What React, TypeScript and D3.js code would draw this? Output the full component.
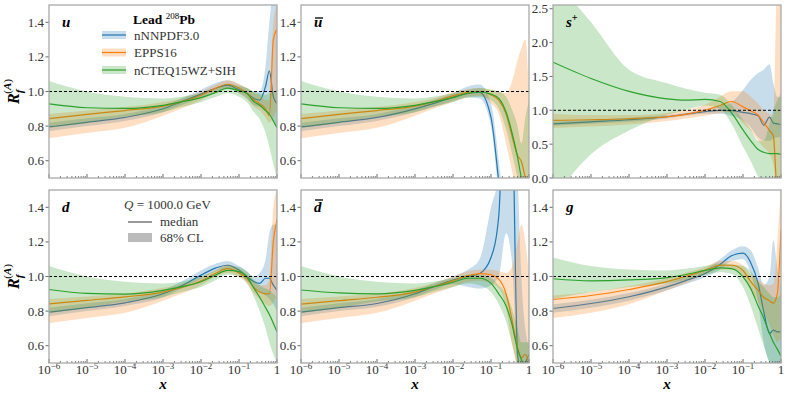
import React from 'react';
import * as d3 from 'd3';

// x grid shared by all curves
const xGrid = [1e-6, 1e-5, 1e-4, 1e-3, 3e-3, 1e-2, 0.025, 0.05, 0.1, 0.16, 0.25, 0.35, 0.5, 0.63, 0.8, 1];

// ---- u ----
const uNNmid = [0.795, 0.822, 0.85, 0.9, 0.94, 0.985, 1.02, 1.037, 1.01, 0.99, 0.96, 0.95, 1.03, 1.12, 0.97, 0.93];
const uNNlo = [0.77, 0.8, 0.83, 0.88, 0.92, 0.965, 1.0, 1.015, 0.99, 0.96, 0.92, 0.91, 0.9, 0.88, 0.84, 0.8];
const uNNhi = [0.82, 0.845, 0.87, 0.92, 0.96, 1.01, 1.05, 1.065, 1.04, 1.02, 1.0, 1.0, 1.15, 1.4, 1.6, 1.7];
const uEPmid = [0.843, 0.868, 0.89, 0.915, 0.94, 0.978, 1.02, 1.042, 1.02, 0.99, 0.95, 0.93, 0.9, 0.86, 1.3, 1.36];
const uEPlo = [0.73, 0.76, 0.79, 0.86, 0.9, 0.95, 0.995, 1.02, 0.99, 0.96, 0.91, 0.89, 0.85, 0.82, 0.85, 0.9];
const uEPhi = [0.87, 0.89, 0.91, 0.94, 0.96, 1.0, 1.04, 1.065, 1.045, 1.02, 0.99, 0.98, 0.95, 0.95, 1.4, 1.5];
const uCTmid = [0.928, 0.906, 0.902, 0.92, 0.94, 0.965, 0.995, 1.02, 1.005, 0.99, 0.94, 0.92, 0.89, 0.87, 0.83, 0.79];
const uCTlo = [0.79, 0.82, 0.855, 0.88, 0.91, 0.94, 0.97, 0.99, 0.97, 0.94, 0.88, 0.84, 0.76, 0.68, 0.58, 0.5];
const uCThi = [1.06, 1.0, 0.97, 0.96, 0.97, 0.99, 1.02, 1.045, 1.03, 1.02, 1.0, 0.99, 0.98, 0.99, 1.0, 1.0];

// ---- ubar ----
const ubNNmid = [0.795, 0.822, 0.85, 0.9, 0.93, 0.967, 0.99, 0.995, 0.85, 0.48, 0.1, -0.2, -0.3, -0.3, -0.3, -0.3];
const ubNNlo = [0.77, 0.8, 0.83, 0.88, 0.91, 0.945, 0.965, 0.96, 0.8, 0.4, 0.0, -0.3, -0.3, -0.3, -0.3, -0.3];
const ubNNhi = [0.82, 0.845, 0.87, 0.92, 0.95, 0.99, 1.03, 1.04, 0.93, 0.6, 0.2, -0.2, -0.2, -0.2, -0.2, -0.2];
const ubEPmid = [0.843, 0.868, 0.89, 0.915, 0.94, 0.975, 0.995, 1.0, 0.98, 0.95, 0.87, 0.75, 0.63, 0.595, 0.5, 0.4];
const ubEPlo = [0.73, 0.76, 0.79, 0.86, 0.9, 0.94, 0.97, 0.975, 0.93, 0.87, 0.7, 0.55, 0.4, 0.3, 0.3, 0.3];
const ubEPhi = [0.87, 0.89, 0.91, 0.94, 0.96, 0.995, 1.015, 1.02, 1.01, 1.0, 0.99, 1.05, 1.18, 1.25, 1.3, 1.0];
const ubCTmid = [0.928, 0.906, 0.902, 0.92, 0.94, 0.965, 0.99, 0.997, 0.985, 0.96, 0.88, 0.77, 0.62, 0.5, 0.4, 0.3];
const ubCTlo = [0.79, 0.82, 0.855, 0.88, 0.91, 0.94, 0.965, 0.97, 0.95, 0.9, 0.78, 0.65, 0.5, 0.4, 0.3, 0.2];
const ubCThi = [1.06, 1.0, 0.97, 0.96, 0.97, 0.99, 1.01, 1.02, 1.01, 1.0, 0.97, 0.9, 0.8, 0.7, 0.85, 0.95];

// ---- s+ ----
const sNNmid = [0.8, 0.83, 0.86, 0.905, 0.94, 0.98, 1.0, 0.995, 0.97, 0.95, 0.92, 0.78, 0.9, 0.81, 0.8, 0.79];
const sNNlo = [0.77, 0.8, 0.83, 0.88, 0.92, 0.95, 0.95, 0.92, 0.85, 0.75, 0.6, 0.55, 0.55, 0.58, 0.6, 0.6];
const sNNhi = [0.83, 0.86, 0.89, 0.93, 0.96, 1.02, 1.06, 1.12, 1.3, 1.45, 1.55, 1.6, 1.68, 1.4, 1.2, 1.2];
const sEPmid = [0.85, 0.86, 0.875, 0.905, 0.94, 1.0, 1.07, 1.13, 1.05, 0.99, 0.93, 0.82, 0.7, 0.62, -0.2, -0.2];
const sEPlo = [0.74, 0.76, 0.79, 0.84, 0.88, 0.92, 0.96, 0.97, 0.8, 0.7, 0.55, 0.45, 0.35, 0.2, -0.2, -0.2];
const sEPhi = [0.95, 0.93, 0.93, 0.96, 1.0, 1.08, 1.2, 1.28, 1.28, 1.2, 1.1, 1.0, 0.95, 0.9, 3.0, 3.0];
const sCTmid = [1.71, 1.47, 1.28, 1.17, 1.15, 1.16, 1.13, 0.96, 0.71, 0.55, 0.42, 0.38, 0.36, 0.36, 0.36, 0.35];
const sCTlo = [-0.3, 0.35, 0.7, 0.93, 1.0, 1.07, 1.02, 0.8, 0.46, 0.25, 0.02, -0.1, -0.1, -0.1, -0.1, 0.0];
const sCThi = [2.95, 2.3, 1.6, 1.4, 1.32, 1.26, 1.23, 1.08, 0.86, 0.72, 0.55, 0.55, 0.8, 1.0, 1.15, 1.25];

// ---- d ----
const dNNmid = [0.794, 0.82, 0.848, 0.9, 0.945, 1.008, 1.05, 1.065, 1.037, 1.0, 0.97, 0.96, 0.99, 0.99, 0.95, 0.92];
const dNNlo = [0.77, 0.8, 0.83, 0.88, 0.93, 0.985, 1.03, 1.045, 1.015, 0.975, 0.94, 0.91, 0.89, 0.87, 0.84, 0.8];
const dNNhi = [0.82, 0.845, 0.87, 0.92, 0.97, 1.035, 1.075, 1.09, 1.06, 1.03, 1.0, 1.02, 1.1, 1.25, 1.3, 1.3];
const dEPmid = [0.842, 0.862, 0.882, 0.91, 0.935, 0.975, 1.02, 1.045, 1.02, 0.99, 0.935, 0.91, 0.9, 0.9, 1.2, 1.33];
const dEPlo = [0.73, 0.76, 0.79, 0.86, 0.9, 0.95, 1.0, 1.02, 0.995, 0.96, 0.9, 0.87, 0.84, 0.83, 0.85, 0.9];
const dEPhi = [0.87, 0.885, 0.9, 0.935, 0.955, 0.995, 1.04, 1.07, 1.045, 1.015, 0.97, 0.95, 0.95, 0.98, 1.4, 1.5];
const dCTmid = [0.925, 0.902, 0.898, 0.92, 0.94, 0.97, 1.01, 1.035, 1.028, 1.0, 0.93, 0.88, 0.82, 0.78, 0.73, 0.68];
const dCTlo = [0.79, 0.82, 0.855, 0.88, 0.91, 0.94, 0.98, 1.01, 1.0, 0.965, 0.88, 0.8, 0.7, 0.62, 0.55, 0.5];
const dCThi = [1.06, 1.0, 0.97, 0.96, 0.97, 1.0, 1.035, 1.06, 1.055, 1.03, 0.98, 0.95, 0.93, 0.92, 0.9, 0.88];

// ---- dbar ----
const dbNNmid = [0.794, 0.82, 0.844, 0.9, 0.94, 0.98, 1.0, 1.017, 1.11, 1.35, 2.3, 2.1, 0.55, 0.45, 0.5, 0.55];
const dbNNlo = [0.77, 0.8, 0.825, 0.88, 0.92, 0.955, 0.94, 0.93, 0.95, 1.0, 1.25, 1.1, 0.45, 0.3, 0.3, 0.3];
const dbNNhi = [0.82, 0.845, 0.87, 0.92, 0.96, 1.0, 1.04, 1.1, 1.4, 1.6, 2.6, 2.6, 1.6, 1.0, 0.7, 0.6];
const dbEPmid = [0.84, 0.86, 0.88, 0.91, 0.94, 0.975, 1.005, 1.017, 1.01, 0.985, 0.9, 0.76, 0.59, 0.53, 0.55, 0.5];
const dbEPlo = [0.73, 0.76, 0.79, 0.86, 0.9, 0.94, 0.97, 0.975, 0.96, 0.93, 0.82, 0.62, 0.45, 0.3, 0.3, 0.3];
const dbEPhi = [0.87, 0.885, 0.9, 0.935, 0.96, 1.0, 1.03, 1.04, 1.04, 1.03, 1.02, 1.05, 1.2, 1.3, 1.2, 1.0];
const dbCTmid = [0.922, 0.905, 0.9, 0.92, 0.94, 0.967, 0.99, 0.99, 0.96, 0.9, 0.83, 0.73, 0.58, 0.52, 0.45, 0.4];
const dbCTlo = [0.79, 0.82, 0.855, 0.88, 0.91, 0.94, 0.96, 0.95, 0.91, 0.84, 0.74, 0.62, 0.48, 0.4, 0.3, 0.3];
const dbCThi = [1.06, 1.0, 0.97, 0.96, 0.97, 0.99, 1.01, 1.01, 0.99, 0.95, 0.9, 0.82, 0.7, 0.62, 0.62, 0.62];

// ---- g ----
const gNNmid = [0.815, 0.844, 0.883, 0.94, 0.975, 1.017, 1.07, 1.12, 1.135, 1.08, 0.96, 0.8, 0.67, 0.69, 0.68, 0.68];
const gNNlo = [0.79, 0.82, 0.86, 0.92, 0.955, 0.995, 1.04, 1.09, 1.1, 1.02, 0.85, 0.62, 0.5, 0.45, 0.45, 0.45];
const gNNhi = [0.84, 0.865, 0.905, 0.96, 0.995, 1.04, 1.1, 1.15, 1.175, 1.15, 1.05, 0.95, 1.0, 1.21, 1.05, 0.95];
const gEPmid = [0.867, 0.89, 0.925, 0.97, 1.0, 1.035, 1.065, 1.065, 1.035, 0.97, 0.92, 0.88, 0.86, 0.846, 0.9, 1.27];
const gEPlo = [0.76, 0.79, 0.84, 0.92, 0.96, 1.01, 1.04, 1.04, 1.0, 0.92, 0.85, 0.79, 0.72, 0.66, 0.62, 0.65];
const gEPhi = [0.89, 0.91, 0.945, 0.99, 1.02, 1.055, 1.09, 1.09, 1.065, 1.01, 0.98, 0.96, 0.95, 0.96, 1.2, 1.55];
const gCTmid = [0.987, 0.975, 0.98, 0.994, 1.01, 1.035, 1.05, 1.045, 0.998, 0.93, 0.83, 0.76, 0.67, 0.62, 0.58, 0.54];
const gCTlo = [0.87, 0.91, 0.94, 0.96, 0.98, 1.01, 1.025, 1.015, 0.94, 0.83, 0.7, 0.6, 0.5, 0.45, 0.45, 0.45];
const gCThi = [1.11, 1.06, 1.04, 1.035, 1.045, 1.06, 1.075, 1.07, 1.06, 1.03, 0.97, 0.94, 0.9, 0.88, 0.88, 0.9];

const setNames = ['nNNPDF3.0', 'EPPS16', 'nCTEQ15WZ+SIH'];
const setColors = ['#1f77b4', '#ff7f0e', '#2ca02c'];
const xTickLabels = ['−6', '−5', '−4', '−3', '−2', '−1', ''];
const yTicksStd = [0.6, 0.8, 1.0, 1.2, 1.4];
const yTicksS = [0.0, 0.5, 1.0, 1.5, 2.0, 2.5];

const panels = [
  { id: 'u', name: 'u', bar: false, sup: '', dom: [0.5, 1.5], ticks: yTicksStd,
    sets: [[uNNmid, uNNlo, uNNhi], [uEPmid, uEPlo, uEPhi], [uCTmid, uCTlo, uCThi]] },
  { id: 'ub', name: 'u', bar: true, sup: '', dom: [0.5, 1.5], ticks: yTicksStd,
    sets: [[ubNNmid, ubNNlo, ubNNhi], [ubEPmid, ubEPlo, ubEPhi], [ubCTmid, ubCTlo, ubCThi]] },
  { id: 's', name: 's', bar: false, sup: '+', dom: [0, 2.555], ticks: yTicksS,
    sets: [[sNNmid, sNNlo, sNNhi], [sEPmid, sEPlo, sEPhi], [sCTmid, sCTlo, sCThi]] },
  { id: 'd', name: 'd', bar: false, sup: '', dom: [0.5, 1.5], ticks: yTicksStd,
    sets: [[dNNmid, dNNlo, dNNhi], [dEPmid, dEPlo, dEPhi], [dCTmid, dCTlo, dCThi]] },
  { id: 'db', name: 'd', bar: true, sup: '', dom: [0.5, 1.5], ticks: yTicksStd,
    sets: [[dbNNmid, dbNNlo, dbNNhi], [dbEPmid, dbEPlo, dbEPhi], [dbCTmid, dbCTlo, dbCThi]] },
  { id: 'g', name: 'g', bar: false, sup: '', dom: [0.5, 1.5], ticks: yTicksStd,
    sets: [[gNNmid, gNNlo, gNNhi], [gEPmid, gEPlo, gEPhi], [gCTmid, gCTlo, gCThi]] },
];

const colLeft = [49, 301, 553];
const rowTop = [5, 190];
const pw = 228;
const ph = 173;
const font = '"Liberation Serif", "DejaVu Serif", serif';
const spine = '#aaaaaa';
const tickCol = '#444';

const Panel = ({ p, idx }) => {
  const col = idx % 3;
  const row = Math.floor(idx / 3);
  const x0 = colLeft[col];
  const y0 = rowTop[row];
  const x = d3.scaleLog().domain([1e-6, 1]).range([x0, x0 + pw]);
  const y = d3.scaleLinear().domain(p.dom).range([y0 + ph, y0]);
  const fmt = d3.format('.1f');
  const clipId = `clip-${p.id}`;

  const majors = d3.range(-6, 1).map((e) => Math.pow(10, e));
  const minors = [];
  for (let e = -6; e < 0; e++) for (let k = 2; k < 10; k++) minors.push(k * Math.pow(10, e));

  return (
    <g>
      <defs>
        <clipPath id={clipId}>
          <rect x={x0} y={y0} width={pw} height={ph} />
        </clipPath>
      </defs>
      <g clipPath={`url(#${clipId})`}>
        {p.sets.map(([mid, lo, hi], si) => {
          const area = d3
            .area()
            .x((_, i) => x(xGrid[i]))
            .y0((_, i) => y(lo[i]))
            .y1((_, i) => y(hi[i]))
            .curve(d3.curveMonotoneX);
          const line = d3
            .line()
            .x((_, i) => x(xGrid[i]))
            .y((_, i) => y(mid[i]))
            .curve(d3.curveMonotoneX);
          return (
            <g key={si}>
              <path d={area(xGrid)} fill={setColors[si]} fillOpacity={0.25} stroke="none" />
              <path d={line(xGrid)} fill="none" stroke={setColors[si]} strokeWidth={1.2} />
            </g>
          );
        })}
        <line x1={x0} x2={x0 + pw} y1={y(1)} y2={y(1)} stroke="#000" strokeWidth={1} strokeDasharray="3,2" />
      </g>

      {/* x ticks, pointing in */}
      {minors.map((v, i) => (
        <line key={'m' + i} x1={x(v)} x2={x(v)} y1={y0 + ph} y2={y0 + ph - 2} stroke={tickCol} strokeWidth={0.7} />
      ))}
      {majors.map((v, i) => (
        <line key={'M' + i} x1={x(v)} x2={x(v)} y1={y0 + ph} y2={y0 + ph - 4} stroke={tickCol} strokeWidth={0.8} />
      ))}
      {row === 1 &&
        majors.map((v, i) => (
          <text key={'L' + i} x={x(v)} y={y0 + ph + 11} textAnchor="middle" fontFamily={font} fontSize={13} fill="#333">
            {xTickLabels[i] === '' ? (
              '1'
            ) : (
              <>
                10
                <tspan fontSize={9} dy={-5}>
                  {xTickLabels[i]}
                </tspan>
              </>
            )}
          </text>
        ))}
      {row === 1 && (
        <text x={x0 + pw / 2} y={y0 + ph + 26} textAnchor="middle" fontFamily={font} fontSize={15} fontWeight="bold" fontStyle="italic">
          x
        </text>
      )}

      {/* y ticks, pointing out */}
      {p.ticks.map((t, i) => (
        <g key={'y' + i}>
          <line x1={x0} x2={x0 - 3.5} y1={y(t)} y2={y(t)} stroke={tickCol} strokeWidth={0.8} />
          <text x={x0 - 5} y={y(t) + 4.5} textAnchor="end" fontFamily={font} fontSize={13} fill="#333">
            {fmt(t)}
          </text>
        </g>
      ))}

      <rect x={x0} y={y0} width={pw} height={ph} fill="none" stroke={spine} strokeWidth={1.3} />

      {/* panel label */}
      <text x={x0 + 13} y={y0 + 22} fontFamily={font} fontSize={15} fontWeight="bold" fontStyle="italic">
        {p.name}
        {p.sup && (
          <tspan fontSize={10} dy={-6}>
            {p.sup}
          </tspan>
        )}
      </text>
      {p.bar && (
        <line
          x1={x0 + 14}
          x2={x0 + 22}
          y1={y0 + (p.name === 'd' ? 10 : 13)}
          y2={y0 + (p.name === 'd' ? 10 : 13)}
          stroke="#000"
          strokeWidth={1.3}
        />
      )}
    </g>
  );
};

const YLabel = ({ cy }) => (
  <text transform={`translate(19,${cy}) rotate(-90)`} textAnchor="middle" fontFamily={font} fontSize={16} fontWeight="bold" fontStyle="italic">
    R
    <tspan fontSize={11} dy={4}>
      f
    </tspan>
    <tspan fontSize={11} dy={-12} dx={-4} fontStyle="normal" fontWeight="normal">
      (
    </tspan>
    <tspan fontSize={11} fontWeight="bold">A</tspan>
    <tspan fontSize={11} fontStyle="normal" fontWeight="normal">
      )
    </tspan>
  </text>
);

const App = () => {
  return (
    <svg width={789} height={395} style={{ position: 'absolute', left: 0, top: 0, background: '#fff' }}>
      {panels.map((p, i) => (
        <Panel key={p.id} p={p} idx={i} />
      ))}
      <YLabel cy={rowTop[0] + ph / 2} />
      <YLabel cy={rowTop[1] + ph / 2} />

      {/* legend: PDF sets */}
      <text x={133} y={24} fontFamily={font} fontSize={13.5} fontWeight="bold">
        Lead{' '}
        <tspan fontSize={9} dy={-5} fontWeight="normal">
          208
        </tspan>
        <tspan dy={5}>Pb</tspan>
      </text>
      {setNames.map((n, i) => {
        const cy = 35 + i * 17.5;
        return (
          <g key={n}>
            <rect x={102} y={cy - 4} width={24} height={8} fill={setColors[i]} fillOpacity={0.25} />
            <line x1={102} x2={126} y1={cy} y2={cy} stroke={setColors[i]} strokeWidth={1.2} />
            <text x={134} y={cy + 4.5} fontFamily={font} fontSize={13} fill="#333">
              {n}
            </text>
          </g>
        );
      })}

      {/* legend: line / band meaning */}
      <text x={124} y={209} fontFamily={font} fontSize={13} fill="#333">
        <tspan fontStyle="italic">Q</tspan> = 1000.0 GeV
      </text>
      <line x1={128} x2={152} y1={222} y2={222} stroke="#555" strokeWidth={1.2} />
      <text x={160} y={226} fontFamily={font} fontSize={13} fill="#333">
        median
      </text>
      <rect x={128} y={233} width={24} height={9} fill="#bbbbbb" />
      <text x={160} y={242} fontFamily={font} fontSize={13} fill="#333">
        68% CL
      </text>
    </svg>
  );
};

export default App;
